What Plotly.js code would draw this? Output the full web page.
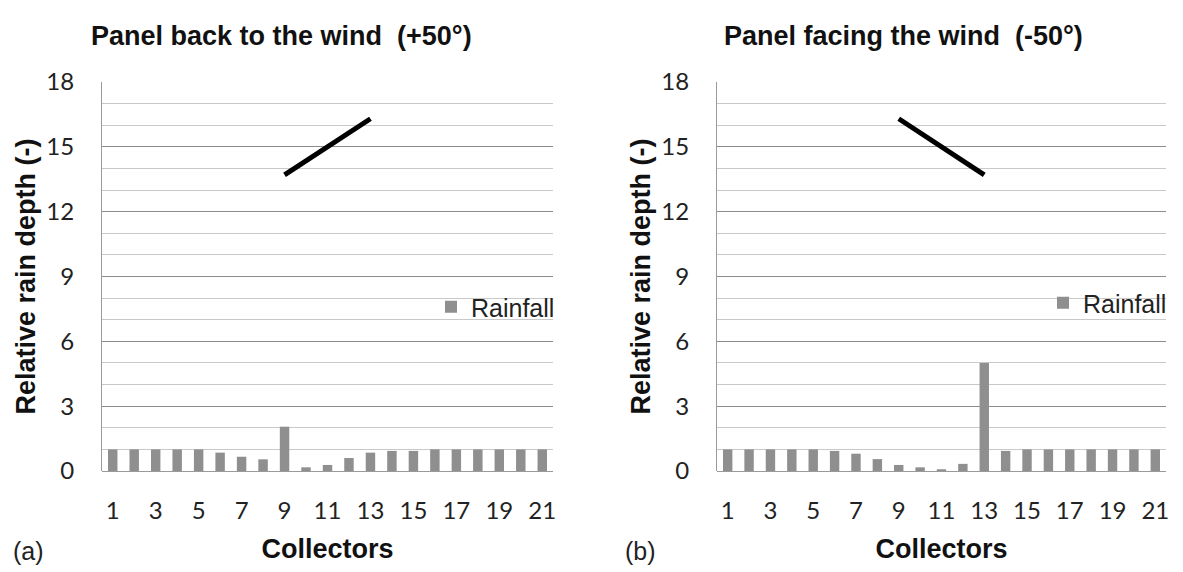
<!DOCTYPE html>
<html>
<head>
<meta charset="utf-8">
<script src="https://cdn.plot.ly/plotly-3.0.1.min.js"></script>
<style>html,body{margin:0;padding:0;background:#fff;}#chart{width:1183px;height:572px;}</style>
</head>
<body>
<div id="chart"></div>
<script>
// Data
const collectors = [1,2,3,4,5,6,7,8,9,10,11,12,13,14,15,16,17,18,19,20,21];
const rainfallBack = [1.0,1.0,1.0,1.0,1.0,0.85,0.66,0.54,2.05,0.17,0.28,0.6,0.85,0.93,0.93,1.0,1.0,1.0,1.0,1.0,1.0];
const rainfallFacing = [1.0,1.0,1.0,1.0,1.0,0.93,0.8,0.55,0.28,0.17,0.08,0.33,5.0,0.93,1.0,1.0,1.0,1.0,1.0,1.0,1.0];
const panelBackX = [9, 13];
const panelBackY = [13.7, 16.3];
const panelFacingX = [9, 13];
const panelFacingY = [16.3, 13.7];
const xTickVals = [1,3,5,7,9,11,13,15,17,19,21];
const titleBack = "Panel back to the wind  (+50°)";
const titleFacing = "Panel facing the wind  (-50°)";

const barColor = '#8f8f8f';
const boldFont = {family: 'Liberation Sans, Arial, sans-serif', size: 27, color: '#111', weight: 'bold'};
const tickFont = {family: 'Lato, sans-serif', size: 24, color: '#222'};
const ytickFont = {family: 'Lato, sans-serif', size: 24, color: '#222'};

const traces = [
  {type: 'bar', x: collectors, y: rainfallBack, name: 'Rainfall', marker: {color: barColor},
   xaxis: 'x', yaxis: 'y', legend: 'legend', showlegend: true},
  {type: 'scatter', mode: 'lines', x: panelBackX, y: panelBackY, line: {color: '#000', width: 5},
   xaxis: 'x', yaxis: 'y', showlegend: false, name: 'Panel'},
  {type: 'bar', x: collectors, y: rainfallFacing, name: 'Rainfall', marker: {color: barColor},
   xaxis: 'x2', yaxis: 'y2', legend: 'legend2', showlegend: true},
  {type: 'scatter', mode: 'lines', x: panelFacingX, y: panelFacingY, line: {color: '#000', width: 5},
   xaxis: 'x2', yaxis: 'y2', showlegend: false, name: 'Panel'}
];

function xAxis(domain, anchor) {
  return {
    domain: domain, anchor: anchor, range: [0.5, 21.5], tickmode: 'array', tickvals: xTickVals,
    ticks: 'outside', ticklen: 18, tickcolor: 'rgba(0,0,0,0)', tickfont: tickFont,
    showgrid: false, zeroline: false, showline: false, fixedrange: true,
    title: {text: 'Collectors', font: boldFont, standoff: 16}
  };
}
function yAxis(domain, anchor) {
  return {
    domain: domain, anchor: anchor, range: [0, 18], tickmode: 'linear', tick0: 0, dtick: 3,
    ticks: 'outside', ticklen: 22, tickcolor: 'rgba(0,0,0,0)', tickfont: ytickFont,
    showgrid: true, gridcolor: '#8c8c8c', gridwidth: 1,
    minor: {dtick: 1, showgrid: true, gridcolor: '#c9c9c9', gridwidth: 1},
    zeroline: true, zerolinecolor: '#9a9a9a', zerolinewidth: 1,
    showline: true, linecolor: '#9a9a9a', linewidth: 1, mirror: false, fixedrange: true,
    title: {text: 'Relative rain depth (-)', font: boldFont, standoff: 2}
  };
}

const yDom = [1 - 471/572, 1 - 82/572];
const layout = {
  width: 1183, height: 572,
  margin: {l: 0, r: 0, t: 0, b: 0},
  paper_bgcolor: '#fff', plot_bgcolor: '#fff',
  bargap: 0.56,
  xaxis: xAxis([102/1183, 553/1183], 'y'),
  yaxis: yAxis(yDom, 'x'),
  xaxis2: xAxis([717/1183, 1166/1183], 'y2'),
  yaxis2: yAxis(yDom, 'x2'),
  legend: {x: 431/1183, y: 1 - 307/572, xanchor: 'left', yanchor: 'middle', bgcolor: 'rgba(0,0,0,0)',
           font: {family: 'Liberation Sans, Arial, sans-serif', size: 25, color: '#222'}},
  legend2: {x: 1043/1183, y: 1 - 303/572, xanchor: 'left', yanchor: 'middle', bgcolor: 'rgba(0,0,0,0)',
           font: {family: 'Liberation Sans, Arial, sans-serif', size: 25, color: '#222'}},
  annotations: [
    {text: titleBack, xref: 'paper', yref: 'paper', x: 281/1183, y: 1 - 36/572, xanchor: 'center', yanchor: 'middle',
     showarrow: false, font: {family: 'Liberation Sans, Arial, sans-serif', size: 27, color: '#111', weight: 'bold'}},
    {text: titleFacing, xref: 'paper', yref: 'paper', x: 903/1183, y: 1 - 36/572, xanchor: 'center', yanchor: 'middle',
     showarrow: false, font: {family: 'Liberation Sans, Arial, sans-serif', size: 27, color: '#111', weight: 'bold'}},
    {text: '(a)', xref: 'paper', yref: 'paper', x: 28/1183, y: 1 - 551/572, xanchor: 'center', yanchor: 'middle',
     showarrow: false, font: {family: 'Liberation Sans, Arial, sans-serif', size: 25, color: '#222'}},
    {text: '(b)', xref: 'paper', yref: 'paper', x: 640/1183, y: 1 - 551/572, xanchor: 'center', yanchor: 'middle',
     showarrow: false, font: {family: 'Liberation Sans, Arial, sans-serif', size: 25, color: '#222'}}
  ]
};

Plotly.newPlot('chart', traces, layout, {staticPlot: true, displayModeBar: false});
</script>
</body>
</html>
